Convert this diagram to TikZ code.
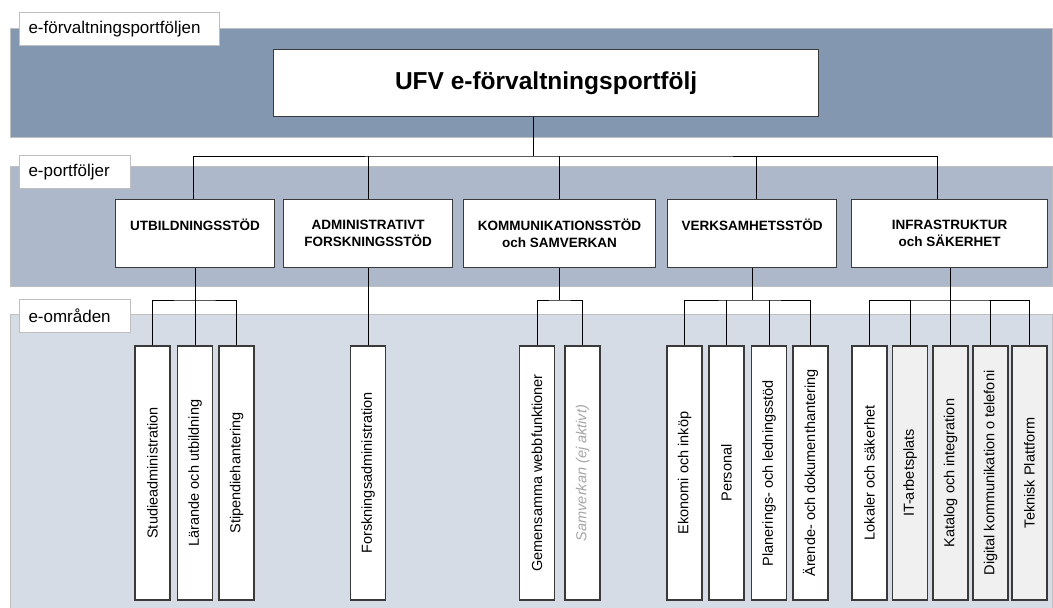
\documentclass[tikz,border=0pt]{standalone}
\usepackage{fontspec}
\setmainfont{Liberation Sans}
\usepackage{graphicx}
\definecolor{bandA}{HTML}{8497B0}
\definecolor{bandB}{HTML}{ADB9CA}
\definecolor{bandC}{HTML}{D6DCE5}
\definecolor{bandline}{HTML}{BFBFBF}
\definecolor{boxline}{HTML}{3A3A3A}
\definecolor{leafgray}{HTML}{F0F0F0}
\definecolor{inactive}{HTML}{A6A6A6}
\begin{document}
\begin{tikzpicture}[x=1pt,y=-1pt,
  band/.style={draw=bandline, line width=1pt},
  lab/.style={draw=bandline, fill=white, line width=1pt, anchor=north west, minimum height=33pt, inner xsep=9pt, inner ysep=0pt, align=left, font=\fontsize{17}{19}\selectfont},
  topbox/.style={draw=boxline, fill=white, line width=1.2pt, anchor=north west, minimum width=545pt, minimum height=67pt, font=\fontsize{24.5}{28}\selectfont\bfseries},
  portbox/.style={draw=boxline, fill=white, line width=1.2pt, anchor=north west, minimum height=68pt, inner sep=0pt, align=center, font=\fontsize{13.5}{17}\selectfont\bfseries},
  leaf/.style={draw=boxline, fill=white, line width=1.2pt, minimum width=35pt, minimum height=254pt, inner sep=0pt, font=\fontsize{14.5}{17}\selectfont},
  leafg/.style={leaf, fill=leafgray},
  conn/.style={draw=black, line width=1pt}
]
\useasboundingbox (0,0) rectangle (1053,608);
\fill[white] (0,0) rectangle (1053,608);
% bands
\path[band, fill=bandA] (10,28) rectangle (1052,137);
\path[band, fill=bandB] (10,166) rectangle (1052,286);
\path[band, fill=bandC] (10,314) rectangle (1052,614);
% band labels
\node[lab, text width=182pt] (l1) at (19,12) {e-förvaltningsportföljen};
\node[lab, text width=93pt] (l2) at (19,155) {e-portföljer};
\node[lab, text width=93pt] (l3) at (19,299) {e-områden};
% top
\node[topbox] (top) at (273,49) {UFV e-förvaltningsportfölj};
% portfolios
\node[portbox, minimum width=159pt] (utb) at (115,199) {UTBILDNINGSSTÖD\\~};
\node[portbox, minimum width=169pt] (adm) at (283,199) {ADMINISTRATIVT\\FORSKNINGSSTÖD};
\node[portbox, minimum width=192pt] (komm) at (463,199) {KOMMUNIKATIONSSTÖD\\och SAMVERKAN};
\node[portbox, minimum width=169pt] (verk) at (667,199) {VERKSAMHETSSTÖD\\~};
\node[portbox, minimum width=196pt] (infra) at (851,199) {INFRASTRUKTUR\\och SÄKERHET};
% leaves
\node[leaf] (stud) at (152.5,473) {\rotatebox{90}{Studieadministration}};
\node[leaf] (lar) at (195,473) {\rotatebox{90}{Lärande och utbildning}};
\node[leaf] (stip) at (236.5,473) {\rotatebox{90}{Stipendiehantering}};
\node[leaf] (forsk) at (368,473) {\rotatebox{90}{Forskningsadministration}};
\node[leaf] (gem) at (537,473) {\rotatebox{90}{Gemensamma webbfunktioner}};
\node[leaf] (samv) at (582.5,473) {\rotatebox{90}{\color{inactive}\itshape Samverkan (ej aktivt)}};
\node[leaf] (ekon) at (684.5,473) {\rotatebox{90}{Ekonomi och inköp}};
\node[leaf] (pers) at (726.5,473) {\rotatebox{90}{Personal}};
\node[leaf] (plan) at (769,473) {\rotatebox{90}{Planerings- och ledningsstöd}};
\node[leaf] (aren) at (810.5,473) {\rotatebox{90}{Ärende- och dokumenthantering}};
\node[leaf] (lok) at (869.5,473) {\rotatebox{90}{Lokaler och säkerhet}};
\node[leafg] (itarb) at (910,473) {\rotatebox{90}{IT-arbetsplats}};
\node[leafg] (kat) at (950.5,473) {\rotatebox{90}{Katalog och integration}};
\node[leafg] (dig) at (990.5,473) {\rotatebox{90}{Digital kommunikation o telefoni}};
\node[leafg] (tek) at (1029.5,473) {\rotatebox{90}{Teknisk Plattform}};
% connectors level 1
\coordinate (b0) at (533,156);
\coordinate (yb) at (0,300);
\draw[conn] (top.south -| b0) -- (b0);
\draw[conn] ([xshift=-1.5pt]utb.north) |- (b0) -| ([xshift=-12pt]infra.north);
\draw[conn] (adm.north) -- (adm.north |- b0);
\draw[conn] (komm.north) -- (komm.north |- b0);
\draw[conn] ([xshift=4.5pt]verk.north) -- ++(0,-43);
% connectors level 2
\draw[conn] (utb.south) -- (utb.south |- lar.north);
\draw[conn] (stud.north) |- (lar.north |- yb) -| (stip.north);
\draw[conn] (adm.south) -- (adm.south |- forsk.north);
\draw[conn] (komm.south) -- (komm.south |- yb);
\draw[conn] (gem.north) |- (komm.south |- yb) -| (samv.north);
\draw[conn] (verk.south) -- (verk.south |- yb);
\draw[conn] (ekon.north) |- (verk.south |- yb) -| (aren.north);
\draw[conn] (pers.north) -- (pers.north |- yb);
\draw[conn] (plan.north) -- (plan.north |- yb);
\draw[conn] (infra.south -| kat.north) -- (kat.north);
\draw[conn] (lok.north) |- (kat.north |- yb) -| (tek.north);
\draw[conn] (itarb.north) -- (itarb.north |- yb);
\draw[conn] (dig.north) -- (dig.north |- yb);
\end{tikzpicture}
\end{document}
